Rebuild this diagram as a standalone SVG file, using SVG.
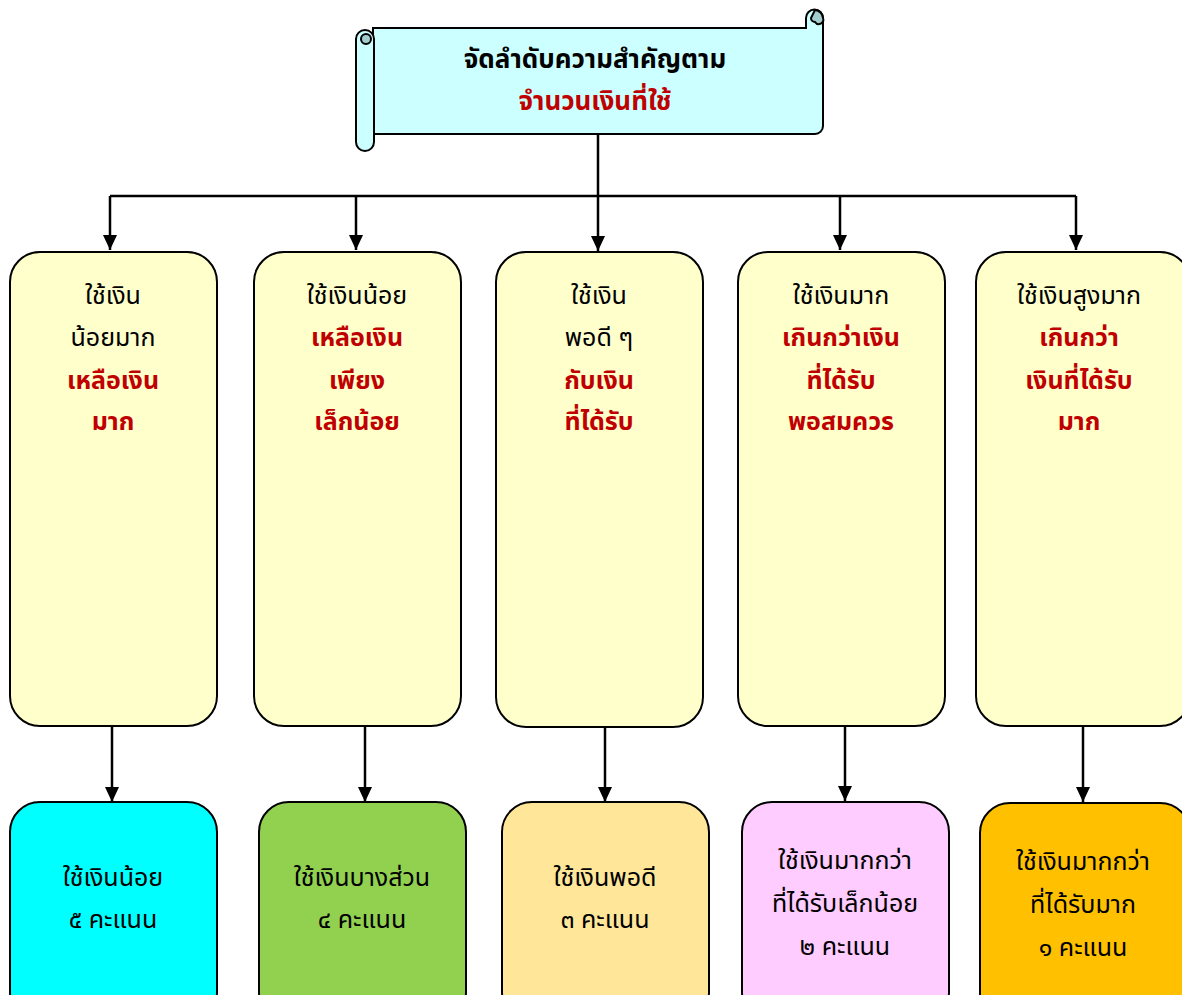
<svg xmlns="http://www.w3.org/2000/svg" width="1182" height="995" viewBox="0 0 1182 995">
<defs>
<style>
text{font-family:"Noto Sans Thai","Noto Sans","DejaVu Sans",sans-serif;font-size:25px;text-anchor:middle;fill:#000}
.r{fill:#C00000;font-weight:bold}
.b{font-weight:bold}
.t{font-size:26px}
.box{stroke:#000;stroke-width:2}
.y{fill:#FFFFCC}
.c{fill:none;stroke:#000;stroke-width:2.5}
</style>
<marker id="ah" viewBox="0 0 10 10" refX="10" refY="5" markerWidth="15" markerHeight="14" markerUnits="userSpaceOnUse" orient="auto" preserveAspectRatio="none">
<path d="M0,0 L10,5 L0,10 Z" fill="#000"/>
</marker>
</defs>
<rect width="1182" height="995" fill="#fff"/>
<g id="connectors">
<path class="c" d="M598,134 V196"/>
<path class="c" d="M110,196 H1076"/>
<path class="c" d="M110,196 V250" marker-end="url(#ah)"/>
<path class="c" d="M356,196 V250" marker-end="url(#ah)"/>
<path class="c" d="M598,196 V251" marker-end="url(#ah)"/>
<path class="c" d="M840,196 V250" marker-end="url(#ah)"/>
<path class="c" d="M1076,196 V250" marker-end="url(#ah)"/>
<path class="c" d="M112,726 V802" marker-end="url(#ah)"/>
<path class="c" d="M365,726 V802" marker-end="url(#ah)"/>
<path class="c" d="M605,727 V802" marker-end="url(#ah)"/>
<path class="c" d="M845,726 V801" marker-end="url(#ah)"/>
<path class="c" d="M1083,726 V802" marker-end="url(#ah)"/>
</g>
<g id="title">
<path class="box" fill="#CCFFFF" d="M373,28 H806 V18 A8.5,8.5 0 0 1 823,18 V126 A8,8 0 0 1 815,134 H373 Z"/>
<path class="box" fill="#A3CCCC" d="M815,10 A8.5,8.5 0 0 1 823,18 A4.5,4.5 0 0 1 815,22 A4,4 0 0 1 811,18 Z"/>
<path fill="none" stroke="#000" stroke-width="2" d="M806,18 V28"/>
<rect class="box" fill="#CCFFFF" x="356" y="30" width="18" height="121" rx="9"/>
<circle cx="366" cy="39" r="5" fill="#A3CCCC" stroke="#000" stroke-width="2"/>
<text class="b t" x="595" y="68">จัดลำดับความสำคัญตาม</text>
<text class="r t" x="595" y="110">จำนวนเงินที่ใช้</text>
</g>
<g id="n1">
<rect class="box y" x="10" y="252" width="207" height="474" rx="30"/>
<text x="113" y="304">ใช้เงิน</text>
<text x="113" y="346">น้อยมาก</text>
<text class="r" x="113" y="389">เหลือเงิน</text>
<text class="r" x="113" y="430">มาก</text>
</g>
<g id="n2">
<rect class="box y" x="254" y="252" width="207" height="474" rx="30"/>
<text x="357" y="304">ใช้เงินน้อย</text>
<text class="r" x="357" y="346">เหลือเงิน</text>
<text class="r" x="357" y="389">เพียง</text>
<text class="r" x="357" y="430">เล็กน้อย</text>
</g>
<g id="n3">
<rect class="box y" x="496" y="252" width="207" height="475" rx="30"/>
<text x="599" y="304">ใช้เงิน</text>
<text x="599" y="346">พอดี ๆ</text>
<text class="r" x="599" y="389">กับเงิน</text>
<text class="r" x="599" y="430">ที่ได้รับ</text>
</g>
<g id="n4">
<rect class="box y" x="738" y="252" width="207" height="474" rx="30"/>
<text x="841" y="304">ใช้เงินมาก</text>
<text class="r" x="841" y="346">เกินกว่าเงิน</text>
<text class="r" x="841" y="389">ที่ได้รับ</text>
<text class="r" x="841" y="430">พอสมควร</text>
</g>
<g id="n5">
<rect class="box y" x="976" y="252" width="214" height="474" rx="30"/>
<text x="1079" y="304">ใช้เงินสูงมาก</text>
<text class="r" x="1079" y="346">เกินกว่า</text>
<text class="r" x="1079" y="389">เงินที่ได้รับ</text>
<text class="r" x="1079" y="430">มาก</text>
</g>
<g id="s5">
<rect class="box" fill="#00FFFF" x="10" y="802" width="207" height="220" rx="30"/>
<text x="113" y="886">ใช้เงินน้อย</text>
<text x="113" y="928">๕ คะแนน</text>
</g>
<g id="s4">
<rect class="box" fill="#92D050" x="259" y="802" width="207" height="220" rx="30"/>
<text x="362" y="886">ใช้เงินบางส่วน</text>
<text x="362" y="928">๔ คะแนน</text>
</g>
<g id="s3">
<rect class="box" fill="#FFE699" x="502" y="802" width="207" height="220" rx="30"/>
<text x="605" y="886">ใช้เงินพอดี</text>
<text x="605" y="928">๓ คะแนน</text>
</g>
<g id="s2">
<rect class="box" fill="#FFCCFF" x="742" y="802" width="207" height="220" rx="30"/>
<text x="845" y="869">ใช้เงินมากกว่า</text>
<text x="845" y="912">ที่ได้รับเล็กน้อย</text>
<text x="845" y="955">๒ คะแนน</text>
</g>
<g id="s1">
<rect class="box" fill="#FFC000" x="980" y="803" width="210" height="220" rx="30"/>
<text x="1083" y="870">ใช้เงินมากกว่า</text>
<text x="1083" y="913">ที่ได้รับมาก</text>
<text x="1083" y="956">๑ คะแนน</text>
</g>
</svg>
